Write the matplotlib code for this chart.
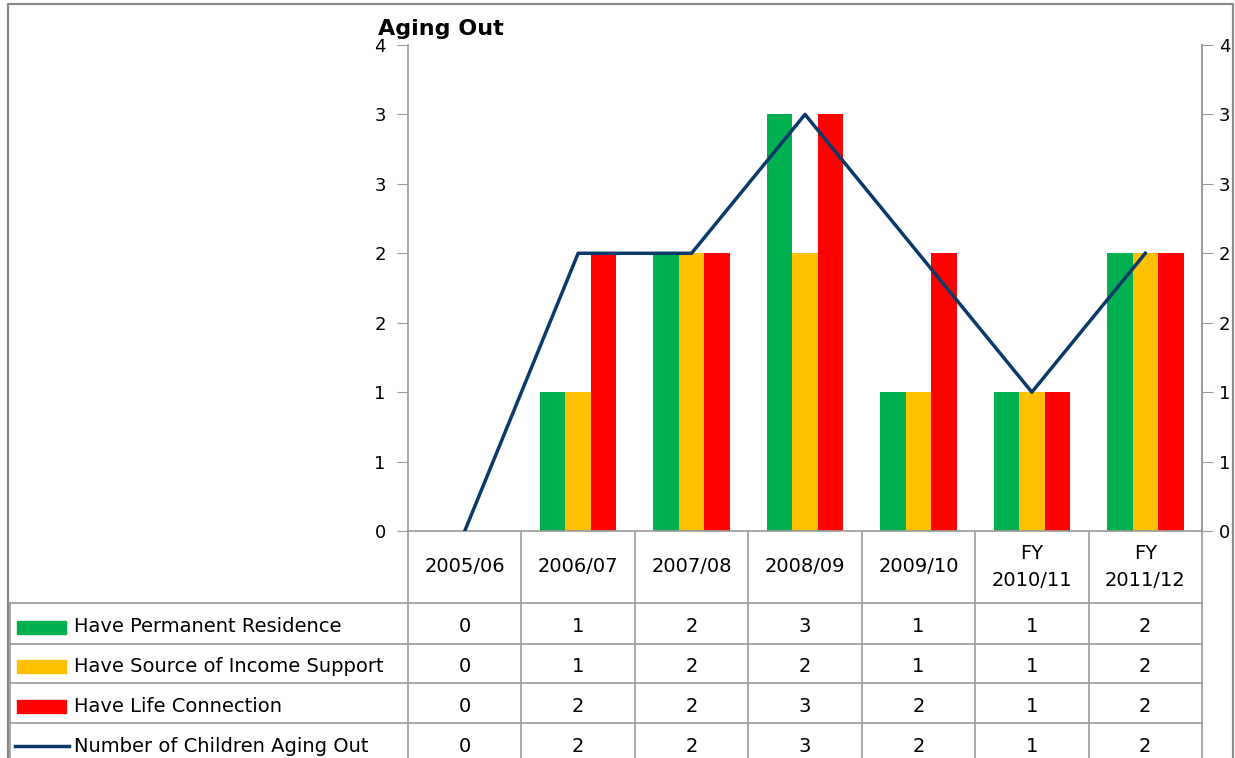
import numpy as np
import matplotlib.pyplot as plt
from matplotlib.patches import Rectangle

# chart data
years = ['2005/06', '2006/07', '2007/08', '2008/09', '2009/10', 'FY\n2010/11', 'FY\n2011/12']
residence = [0, 1, 2, 3, 1, 1, 2]
income = [0, 1, 2, 2, 1, 1, 2]
life_conn = [0, 2, 2, 3, 2, 1, 2]
aging_out = [0, 2, 2, 3, 2, 1, 2]
names = ['Have Permanent Residence', 'Have Source of Income Support',
         'Have Life Connection', 'Number of Children Aging Out']
colors = ['#00B050', '#FFC000', '#FF0000']
line_color = '#0A3A6A'
grid_gray = '#9a9a9a'

plt.rcParams['font.family'] = ['DejaVu Sans']
fs_tick = 13
fs_tab = 14

# figure in pixel units
W, H = 1235, 758
px_left, px_right, px_top, px_bot = 408, 1202, 45, 531

fig = plt.figure(figsize=(W / 100, H / 100), dpi=100)
tab = fig.add_axes([0, 0, 1, 1])
tab.set_xlim(0, W)
tab.set_ylim(H, 0)
tab.axis('off')

ax = fig.add_axes([px_left / W, (H - px_bot) / H,
                   (px_right - px_left) / W, (px_bot - px_top) / H])

##################################
# bars + line
##################################
x = np.arange(len(years))
bw = 0.225
ax.bar(x - bw, residence, bw, color=colors[0], zorder=2)
ax.bar(x, income, bw, color=colors[1], zorder=2)
ax.bar(x + bw, life_conn, bw, color=colors[2], zorder=2)
ax.plot(x, aging_out, color=line_color, lw=2.5, zorder=3)

ax.set_xlim(-0.5, len(years) - 0.5)
ax.set_ylim(0, 3.5)
yt = np.arange(0, 3.51, 0.5)
ylabels = [str(int(np.floor(v + 0.5))) for v in yt]
ax.set_yticks(yt)
ax.set_yticklabels(ylabels)
ax.set_xticks([])
ax.tick_params(axis='y', length=8, color=grid_gray, labelsize=fs_tick, pad=8)
ax.spines['top'].set_visible(False)
for s in ['left', 'right', 'bottom']:
    ax.spines[s].set_color(grid_gray)
    ax.spines[s].set_linewidth(1.2)

# secondary axis on the right, same scale
ax2 = ax.twinx()
ax2.set_ylim(0, 3.5)
ax2.set_yticks(yt)
ax2.set_yticklabels(ylabels)
ax2.tick_params(axis='y', length=8, color=grid_gray, labelsize=fs_tick, pad=4)
for s in ['top', 'left', 'bottom']:
    ax2.spines[s].set_visible(False)
ax2.spines['right'].set_color(grid_gray)
ax2.spines['right'].set_linewidth(1.2)

fig.text(378 / W, 1 - 35 / H, 'Aging Out', fontsize=16, fontweight='bold',
         va='baseline', ha='left')

##################################
# outer frame
##################################
tab.plot([8, 8, 1233, 1233], [H + 5, 4, 4, H + 5], color='#8a8a8a', lw=1.6,
         clip_on=False)

##################################
# data table
##################################
col_w = (px_right - px_left) / len(years)
edges = [px_left + i * col_w for i in range(len(years) + 1)]
rows_y = [603, 644, 683, 723]
text_y = [627, 666, 706, 746]

for e in edges:
    tab.plot([e, e], [px_bot, H + 5], color=grid_gray, lw=1.2, clip_on=False)
tab.plot([10, 10], [rows_y[0], H + 5], color=grid_gray, lw=1.2, clip_on=False)
for ry in rows_y:
    tab.plot([10, edges[-1]], [ry, ry], color=grid_gray, lw=1.2)

for i, yr in enumerate(years):
    cx = (edges[i] + edges[i + 1]) / 2
    tab.text(cx, 567, yr, ha='center', va='center', fontsize=fs_tab,
             linespacing=1.55)

table_vals = [residence, income, life_conn, aging_out]
for r, vals in enumerate(table_vals):
    for i, v in enumerate(vals):
        cx = (edges[i] + edges[i + 1]) / 2
        tab.text(cx, text_y[r], str(v), ha='center', va='center', fontsize=fs_tab)
    tab.text(74, text_y[r], names[r], ha='left', va='center', fontsize=fs_tab)

# legend keys
for r in range(3):
    tab.add_patch(Rectangle((17, text_y[r] - 6.5), 49, 13, color=colors[r]))
tab.plot([15, 69], [text_y[3], text_y[3]], color=line_color, lw=2.5)

fig.savefig('out.png', dpi=100)
